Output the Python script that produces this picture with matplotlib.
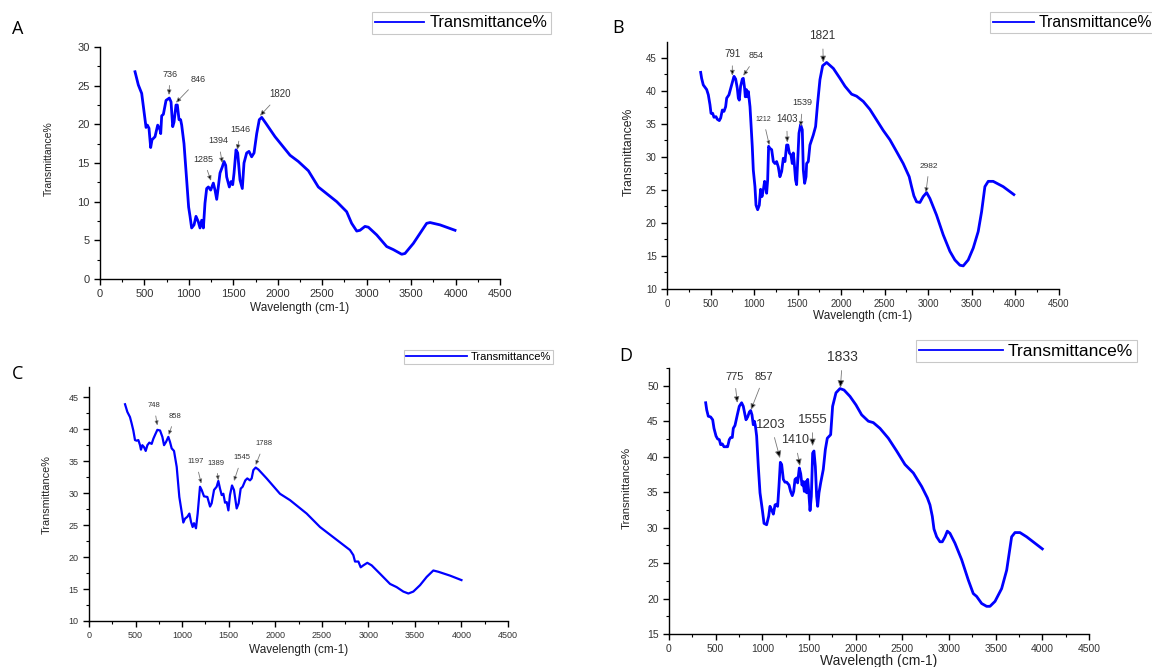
import numpy as np
import matplotlib
matplotlib.use("Agg")
import matplotlib.pyplot as plt
from matplotlib.lines import Line2D
from matplotlib.ticker import MultipleLocator

plt.rcParams['font.family'] = ['Liberation Sans', 'DejaVu Sans']

W, H = 1152, 667

# ---- panel A ----
wn_a = [394, 431, 469, 488, 518, 533, 551, 570, 585, 619, 649, 675, 683, 694, 713, 743, 780, 799, 818, 833,
        855, 870, 889, 907, 919, 945, 975, 997, 1013, 1031, 1058, 1080, 1106, 1125, 1144, 1163, 1181, 1200,
        1219, 1245, 1275, 1294, 1313, 1331, 1350, 1376, 1395, 1414, 1425, 1455, 1474, 1493, 1508, 1530,
        1549, 1575, 1601, 1620, 1650, 1676, 1706, 1733, 1763, 1792, 1819, 1868, 1969, 2138, 2231, 2344,
        2456, 2663, 2775, 2831, 2888, 2925, 2981, 3019, 3113, 3225, 3300, 3394, 3431, 3525, 3600, 3675,
        3713, 3825, 3994]
t_a = [26.8, 25.1, 24.0, 22.3, 19.6, 19.9, 19.5, 17.0, 18.0, 18.4, 19.9, 19.3, 18.8, 21.1, 21.3, 23.1, 23.4,
       22.9, 19.7, 20.3, 22.5, 22.5, 20.6, 20.6, 19.9, 17.5, 12.8, 9.3, 8.1, 6.6, 7.0, 8.1, 7.4, 6.6, 7.6,
       6.6, 9.8, 11.7, 11.9, 11.5, 12.4, 11.5, 10.3, 11.9, 13.7, 14.5, 15.2, 14.7, 13.2, 11.9, 12.6, 12.2,
       13.7, 16.7, 16.3, 12.8, 11.7, 15.0, 16.3, 16.5, 15.8, 16.3, 18.8, 20.6, 20.9, 20.1, 18.4, 16.0,
       15.2, 14.0, 11.9, 10.0, 8.7, 7.2, 6.2, 6.3, 6.8, 6.7, 5.7, 4.2, 3.8, 3.2, 3.3, 4.6, 5.9, 7.2, 7.3,
       7.0, 6.3]
# label, tip (x, y), text (x, y), fontsize
ann_a = [("736", (776, 23.8), (788, 26.5), 6.5),
         ("846", (855, 22.8), (1106, 25.8), 6.5),
         ("1285", (1249, 12.7), (1163, 15.5), 6.5),
         ("1394", (1376, 15.0), (1331, 17.9), 6.5),
         ("1546", (1545, 16.7), (1583, 19.3), 6.5),
         ("1820", (1800, 21.1), (2025, 23.9), 7)]

# ---- panel B ----
wn_b = [387, 398, 417, 456, 475, 494, 506, 525, 540, 563, 578, 601, 617, 636, 655, 674, 686, 712, 743, 770,
        789, 808, 820, 831, 846, 866, 877, 892, 900, 912, 923, 935, 954, 965, 980, 992, 1011, 1023, 1042,
        1061, 1076, 1092, 1107, 1122, 1138, 1145, 1157, 1168, 1183, 1203, 1222, 1241, 1260, 1279, 1298,
        1318, 1337, 1356, 1375, 1390, 1406, 1425, 1440, 1452, 1463, 1478, 1490, 1501, 1517, 1536, 1555,
        1567, 1582, 1598, 1605, 1624, 1643, 1681, 1708, 1731, 1758, 1789, 1835, 1912, 1988, 2046, 2122,
        2179, 2256, 2332, 2409, 2486, 2562, 2639, 2715, 2784, 2811, 2838, 2869, 2907, 2945, 2984, 3022,
        3098, 3175, 3252, 3309, 3367, 3405, 3462, 3520, 3577, 3616, 3654, 3692, 3749, 3864, 3987]
t_b = [42.8, 41.9, 40.9, 40.2, 39.4, 37.9, 36.6, 36.6, 36.0, 36.1, 35.7, 35.5, 35.9, 37.1, 36.9, 37.6, 38.9,
       39.4, 40.9, 42.2, 41.8, 40.4, 38.9, 38.6, 40.7, 41.8, 41.9, 40.4, 39.1, 40.2, 39.1, 39.9, 37.6,
       35.1, 31.6, 28.0, 25.5, 22.7, 22.0, 22.7, 25.1, 24.0, 25.0, 26.3, 25.5, 24.5, 26.5, 31.6, 31.3,
       31.1, 29.3, 29.0, 29.3, 28.5, 27.0, 27.8, 29.8, 29.3, 31.8, 31.8, 30.6, 30.3, 29.0, 30.6, 29.0,
       26.5, 25.8, 29.0, 33.6, 34.9, 34.1, 28.0, 26.0, 27.0, 29.0, 29.3, 31.8, 33.3, 34.6, 38.1, 41.7,
       43.8, 44.3, 43.4, 41.9, 40.7, 39.5, 39.2, 38.4, 37.2, 35.6, 34.0, 32.6, 30.8, 29.0, 27.0, 25.5,
       24.1, 23.2, 23.1, 24.0, 24.6, 23.7, 21.2, 18.2, 15.7, 14.4, 13.6, 13.5, 14.4, 16.2, 18.7, 21.7,
       25.5, 26.3, 26.3, 25.5, 24.3]
ann_b = [("791", (751, 42.3), (751, 45.6), 7),
         ("854", (877, 42.3), (1030, 45.3), 6.5),
         ("1212", (1176, 31.8), (1107, 35.7), 5),
         ("1403", (1383, 32.2), (1375, 35.7), 7),
         ("1539", (1536, 34.6), (1559, 38.2), 6.5),
         ("1821", (1796, 44.3), (1789, 48.3), 8.5),
         ("2982", (2976, 24.6), (3014, 28.6), 6)]

# ---- panel C ----
wn_c = [387, 412, 440, 458, 476, 494, 512, 530, 548, 558, 573, 591, 609, 627, 648, 673, 691, 709, 734, 763,
        788, 806, 827, 852, 870, 888, 913, 942, 970, 995, 1013, 1031, 1056, 1078, 1096, 1113, 1128, 1149,
        1167, 1192, 1210, 1235, 1271, 1300, 1317, 1343, 1371, 1389, 1407, 1425, 1443, 1461, 1479, 1497,
        1514, 1536, 1557, 1586, 1607, 1629, 1650, 1679, 1700, 1729, 1747, 1765, 1790, 1819, 1908, 2051,
        2159, 2338, 2481, 2660, 2803, 2839, 2857, 2893, 2918, 2946, 2989, 3036, 3125, 3233, 3304, 3376,
        3430, 3483, 3555, 3627, 3698, 3752, 3877, 4000]
t_c = [43.9, 42.7, 41.9, 40.9, 39.8, 38.3, 38.2, 38.3, 37.5, 36.8, 37.5, 37.2, 36.6, 37.5, 37.9, 37.7, 38.5,
       39.1, 39.9, 39.8, 38.8, 37.5, 38.0, 38.8, 38.0, 37.0, 36.6, 34.1, 29.4, 27.1, 25.4, 26.0, 26.3,
       26.8, 25.5, 24.7, 25.3, 24.5, 26.8, 31.0, 30.5, 29.5, 29.4, 27.9, 28.4, 30.5, 31.0, 31.9, 30.7,
       29.7, 29.9, 28.5, 28.6, 27.3, 29.7, 31.2, 30.5, 27.6, 28.4, 30.7, 31.0, 32.0, 32.3, 32.0, 32.3,
       33.6, 34.0, 33.7, 32.3, 29.9, 28.9, 26.8, 24.7, 22.7, 21.1, 20.3, 19.3, 19.3, 18.4, 18.7, 19.1,
       18.7, 17.4, 15.8, 15.3, 14.6, 14.3, 14.6, 15.6, 16.9, 17.9, 17.7, 17.1, 16.4]
ann_c = [("748", (734, 40.6), (698, 43.7), 5.5),
         ("858", (856, 39.1), (924, 42.0), 5.5),
         ("1197", (1206, 31.5), (1149, 34.9), 5.5),
         ("1389", (1389, 32.0), (1364, 34.7), 5.5),
         ("1545", (1557, 31.9), (1640, 35.5), 5.5),
         ("1788", (1790, 34.4), (1880, 37.7), 5.5)]

# ---- panel D ----
wn_d = [393, 404, 421, 446, 468, 482, 504, 521, 539, 553, 571, 589, 611, 628, 646, 661, 678, 689, 707, 732,
        753, 778, 796, 814, 825, 843, 861, 875, 889, 903, 914, 925, 939, 957, 975, 1000, 1018, 1046, 1068,
        1082, 1100, 1118, 1136, 1153, 1164, 1178, 1193, 1207, 1225, 1243, 1261, 1286, 1303, 1321, 1336,
        1350, 1368, 1378, 1396, 1411, 1425, 1436, 1450, 1464, 1475, 1486, 1496, 1511, 1525, 1539, 1553,
        1568, 1582, 1593, 1607, 1625, 1653, 1675, 1696, 1732, 1753, 1789, 1832, 1875, 1939, 2003, 2064,
        2136, 2189, 2260, 2350, 2439, 2528, 2618, 2707, 2768, 2796, 2821, 2839, 2868, 2903, 2928, 2957,
        2982, 3010, 3064, 3135, 3207, 3260, 3296, 3350, 3403, 3439, 3493, 3564, 3618, 3671, 3707, 3760,
        3832, 4000]
t_d = [47.6, 46.6, 45.7, 45.6, 45.2, 44.0, 42.9, 42.5, 42.4, 41.7, 41.8, 41.4, 41.4, 41.4, 42.4, 42.7, 42.7,
       44.0, 44.4, 45.9, 47.1, 47.6, 47.1, 45.9, 45.2, 45.6, 46.3, 46.5, 45.9, 44.5, 45.0, 44.4, 42.9,
       38.6, 34.9, 32.5, 30.6, 30.4, 31.6, 33.0, 32.5, 31.9, 33.2, 33.3, 33.0, 35.8, 39.2, 38.9, 36.8,
       36.4, 36.4, 36.0, 35.1, 34.5, 35.1, 36.8, 37.0, 36.3, 38.4, 37.6, 36.0, 36.5, 35.1, 36.5, 34.9,
       36.8, 35.3, 32.4, 34.4, 40.5, 40.8, 38.6, 34.4, 33.0, 34.9, 36.3, 38.2, 41.0, 42.6, 43.1, 47.1,
       49.0, 49.6, 49.4, 48.5, 47.3, 45.9, 45.0, 44.8, 44.0, 42.6, 40.8, 38.9, 37.7, 35.8, 34.2, 33.2,
       31.6, 29.8, 28.7, 28.0, 28.0, 28.7, 29.5, 29.2, 27.8, 25.5, 22.6, 20.7, 20.3, 19.3, 18.9, 18.9,
       19.6, 21.4, 24.0, 28.7, 29.3, 29.3, 28.7, 27.0]
ann_d = [("775", (732, 47.6), (700, 51.3), 8),
         ("857", (878, 46.6), (1018, 51.3), 8),
         ("1203", (1189, 39.8), (1093, 44.5), 9.5),
         ("1410", (1403, 38.7), (1350, 42.3), 9),
         ("1555", (1539, 41.5), (1536, 45.2), 9.5),
         ("1833", (1836, 49.7), (1860, 54.1), 10)]


def make_ax(fig, l, r, t, b):
    return fig.add_axes([l / W, 1 - b / H, (r - l) / W, (b - t) / H])


def panel(fig, box, wn, t, ann, ylim, ytick0, sizes, lw, letter, letter_pos, leg):
    ax = make_ax(fig, *box)
    tick_fs, lab_fs, xlab_fs, ylab_pos, xlab_y = sizes
    ax.plot(wn, t, color='#0000ff', lw=lw)
    ax.set_xlim(0, 4500)
    ax.set_ylim(*ylim)
    ax.set_xticks(np.arange(0, 4501, 500))
    ax.set_yticks(np.arange(ytick0, ylim[1] + 0.01, 5))
    ax.xaxis.set_minor_locator(MultipleLocator(250))
    ax.yaxis.set_minor_locator(MultipleLocator(2.5))
    for s in ['top', 'right']:
        ax.spines[s].set_visible(False)
    for s in ['left', 'bottom']:
        ax.spines[s].set_linewidth(1.0)
    ax.tick_params(which='major', direction='out', length=4, width=1, labelsize=tick_fs, labelcolor='#333')
    ax.tick_params(which='minor', direction='out', length=2.5, width=0.8)
    ax.set_xlabel('Wavelength (cm-1)', fontsize=xlab_fs, color='#222')
    ax.xaxis.set_label_coords(0.5, xlab_y)
    ax.set_ylabel('Transmittance%', fontsize=lab_fs, color='#222')
    ax.yaxis.set_label_coords(*ylab_pos)
    for lbl, tip, txt, fs in ann:
        ax.annotate(lbl, xy=tip, xytext=txt, fontsize=fs, color='#333', ha='center', va='center',
                    annotation_clip=False,
                    arrowprops=dict(arrowstyle='-|>,head_length=0.45,head_width=0.2',
                                    ec='#777', fc='black', lw=0.6, shrinkA=3, shrinkB=0))
    fig.text(letter_pos[0] / W, 1 - letter_pos[1] / H, letter, fontsize=13,
             family=['Open Sans', 'DejaVu Sans'], ha='left', va='center')
    lx, ly, lfs, hl = leg
    h = Line2D([], [], color='#0000ff', lw=1.3)
    lg = ax.legend([h], ['Transmittance%'], loc='upper left', bbox_to_anchor=(lx / W, 1 - ly / H),
                   bbox_transform=fig.transFigure, fontsize=lfs, frameon=True, fancybox=False,
                   handlelength=hl, borderpad=0.2, handletextpad=0.3, borderaxespad=0)
    lg.get_frame().set_edgecolor('#bbbbbb')
    lg.get_frame().set_linewidth(0.8)
    return ax


fig = plt.figure(figsize=(W / 100, H / 100), dpi=100)

panel(fig, (100, 500, 47, 279), wn_a, t_a, ann_a, (0, 30), 0,
      (8, 7.5, 8.5, (-0.115, 0.52), -0.1), 2.0, 'A', (12, 29), (372, 12, 11.8, 3.0))
panel(fig, (667, 1058.5, 42, 289), wn_b, t_b, ann_b, (10, 47.4), 10,
      (7, 8.8, 8.5, (-0.082, 0.555), -0.085), 2.0, 'B', (612, 28), (990, 12, 11.3, 2.6))
panel(fig, (89, 508, 387, 621), wn_c, t_c, ann_c, (10, 46.6), 10,
      (6.5, 7.8, 8.5, (-0.09, 0.54), -0.1), 1.6, 'C', (12, 374), (404, 350, 8, 5.5))
panel(fig, (669, 1089, 368, 634), wn_d, t_d, ann_d, (15, 52.5), 15,
      (7.5, 8.2, 10, (-0.088, 0.55), -0.075), 2.0, 'D', (619, 356), (916, 340, 12.5, 4.8))

fig.savefig('out.png', dpi=100)
